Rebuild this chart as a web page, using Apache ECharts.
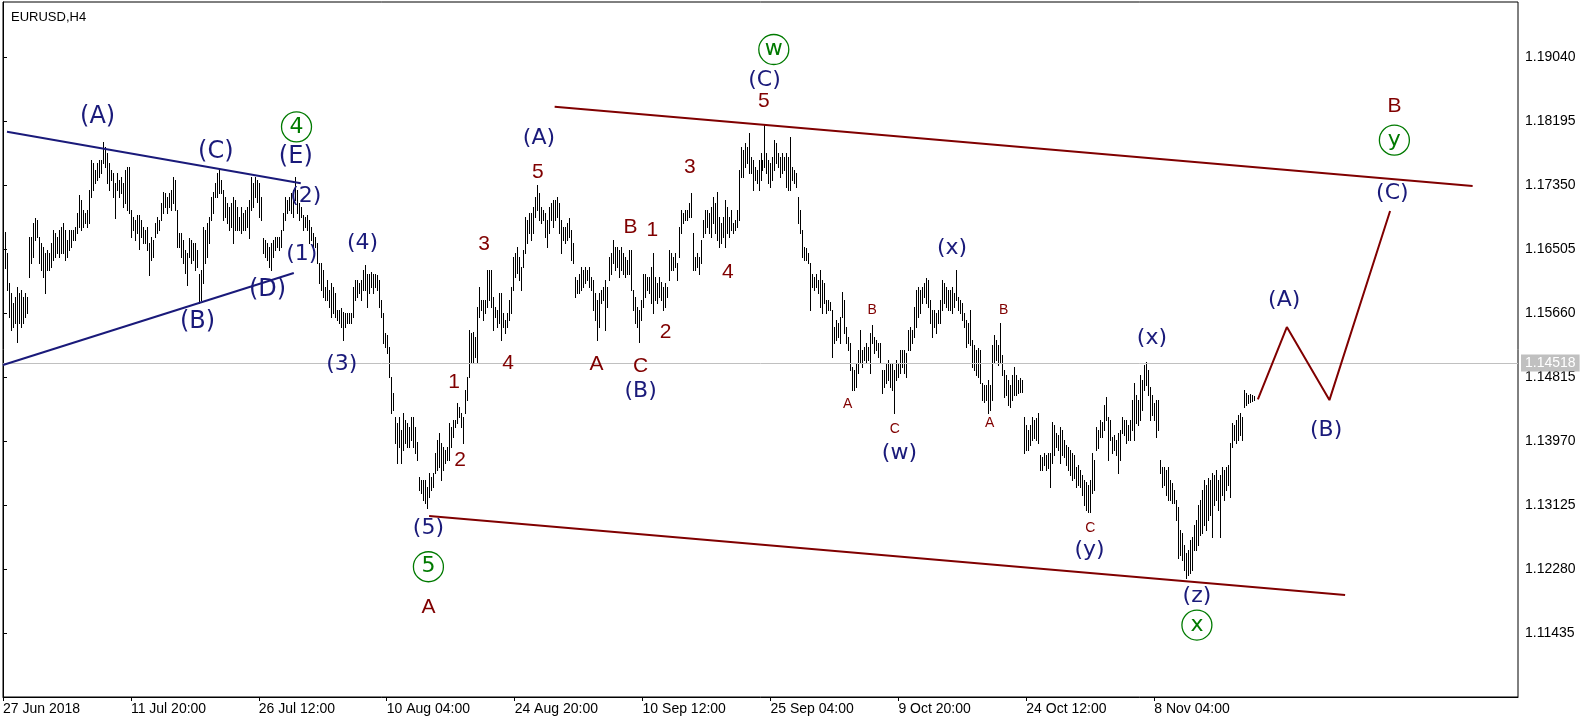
<!DOCTYPE html>
<html><head><meta charset="utf-8">
<script src="https://cdn.jsdelivr.net/npm/echarts@6/dist/echarts.min.js"></script>
<style>html,body{margin:0;padding:0;background:#fff}#c{width:1596px;height:723px}</style>
</head><body><div id="c"></div>
<script>
// ---------------- data ----------------
const symbolName = 'EURUSD,H4';
const tickLabels = ['27 Jun 2018','11 Jul 20:00','26 Jul 12:00','10 Aug 04:00','24 Aug 20:00','10 Sep 12:00','25 Sep 04:00','9 Oct 20:00','24 Oct 12:00','8 Nov 04:00'];
const barsPerLabel = 64;
const slotCount = 759;
const priceMin = 1.10590, priceMax = 1.19766, priceStep = 0.00845;
const lastPrice = 1.14518;

const highs = [
1.1662,1.1673,1.1645,1.1605,1.1592,1.1579,1.1587,1.1600,1.1592,1.1596,
1.1587,1.1592,1.1587,1.1666,1.1666,1.1685,1.1691,1.1689,1.1666,1.1658,
1.1653,1.1645,1.1649,1.1645,1.1658,1.1675,1.1671,1.1666,1.1675,1.1679,
1.1685,1.1675,1.1662,1.1675,1.1675,1.1675,1.1679,1.1698,1.1722,1.1715,
1.1702,1.1698,1.1702,1.1728,1.1768,1.1764,1.1755,1.1764,1.1768,1.1768,
1.1792,1.1785,1.1777,1.1764,1.1755,1.1751,1.1737,1.1751,1.1741,1.1745,
1.1737,1.1755,1.1759,1.1759,1.1702,1.1693,1.1689,1.1695,1.1695,1.1689,
1.1679,1.1675,1.1679,1.1658,1.1666,1.1662,1.1685,1.1693,1.1689,1.1711,
1.1726,1.1724,1.1719,1.1724,1.1728,1.1745,1.1741,1.1702,1.1671,1.1671,
1.1662,1.1649,1.1645,1.1665,1.1662,1.1658,1.1658,1.1649,1.1618,1.1623,
1.1679,1.1675,1.1685,1.1693,1.1719,1.1726,1.1737,1.1751,1.1755,1.1741,
1.1728,1.1719,1.1711,1.1706,1.1711,1.1719,1.1715,1.1706,1.1693,1.1706,
1.1698,1.1702,1.1706,1.1715,1.1745,1.1737,1.1745,1.1741,1.1737,1.1719,
1.1665,1.1662,1.1658,1.1653,1.1658,1.1662,1.1666,1.1666,1.1666,1.1675,
1.1698,1.1719,1.1715,1.1719,1.1724,1.1728,1.1745,1.1728,1.1711,1.1706,
1.1695,1.1693,1.1695,1.1689,1.1679,1.1671,1.1666,1.1658,1.1632,1.1632,
1.1623,1.1600,1.1609,1.1596,1.1605,1.1600,1.1592,1.1570,1.1570,1.1572,
1.1567,1.1566,1.1566,1.1566,1.1566,1.1600,1.1609,1.1609,1.1605,1.1609,
1.1623,1.1629,1.1618,1.1618,1.1620,1.1618,1.1618,1.1616,1.1609,1.1583,
1.1566,1.1539,1.1537,1.1521,1.1481,1.1460,1.1429,1.1421,1.1429,1.1411,
1.1434,1.1425,1.1421,1.1415,1.1429,1.1429,1.1415,1.1396,1.1349,1.1345,
1.1345,1.1345,1.1336,1.1355,1.1349,1.1355,1.1381,1.1398,1.1407,1.1394,
1.1389,1.1385,1.1389,1.1421,1.1415,1.1425,1.1425,1.1447,1.1442,1.1434,
1.1429,1.1464,1.1481,1.1543,1.1539,1.1541,1.1534,1.1574,1.1600,1.1583,
1.1583,1.1583,1.1623,1.1623,1.1623,1.1587,1.1574,1.1570,1.1592,1.1592,
1.1566,1.1557,1.1566,1.1583,1.1600,1.1640,1.1645,1.1653,1.1640,1.1627,
1.1649,1.1693,1.1689,1.1698,1.1698,1.1706,1.1719,1.1735,1.1724,1.1706,
1.1702,1.1698,1.1689,1.1706,1.1711,1.1715,1.1715,1.1719,1.1711,1.1689,
1.1679,1.1679,1.1685,1.1691,1.1675,1.1658,1.1613,1.1609,1.1618,1.1627,
1.1623,1.1627,1.1623,1.1627,1.1613,1.1609,1.1592,1.1583,1.1592,1.1596,
1.1600,1.1609,1.1600,1.1640,1.1645,1.1662,1.1653,1.1653,1.1649,1.1653,
1.1645,1.1640,1.1636,1.1649,1.1649,1.1596,1.1587,1.1574,1.1570,1.1583,
1.1618,1.1618,1.1613,1.1613,1.1627,1.1645,1.1613,1.1605,1.1613,1.1607,
1.1600,1.1605,1.1600,1.1649,1.1645,1.1640,1.1645,1.1632,1.1679,1.1702,
1.1698,1.1702,1.1702,1.1711,1.1724,1.1671,1.1640,1.1645,1.1640,1.1662,
1.1689,1.1702,1.1702,1.1698,1.1706,1.1719,1.1711,1.1726,1.1693,1.1685,
1.1693,1.1715,1.1706,1.1693,1.1702,1.1685,1.1689,1.1702,1.1755,1.1785,
1.1781,1.1790,1.1785,1.1803,1.1772,1.1768,1.1759,1.1755,1.1768,1.1777,
1.1768,1.1814,1.1777,1.1768,1.1764,1.1772,1.1794,1.1790,1.1777,1.1772,
1.1777,1.1772,1.1777,1.1772,1.1798,1.1759,1.1755,1.1751,1.1719,1.1702,
1.1675,1.1653,1.1652,1.1645,1.1632,1.1618,1.1613,1.1618,1.1609,1.1623,
1.1609,1.1605,1.1583,1.1583,1.1580,1.1570,1.1547,1.1557,1.1553,1.1561,
1.1594,1.1583,1.1547,1.1534,1.1526,1.1495,1.1491,1.1500,1.1517,1.1543,
1.1517,1.1521,1.1526,1.1521,1.1539,1.1550,1.1534,1.1530,1.1526,1.1526,
1.1491,1.1491,1.1500,1.1504,1.1500,1.1500,1.1491,1.1504,1.1500,1.1517,
1.1517,1.1517,1.1513,1.1543,1.1547,1.1543,1.1574,1.1596,1.1600,1.1596,
1.1600,1.1605,1.1612,1.1609,1.1583,1.1570,1.1570,1.1566,1.1570,1.1583,
1.1609,1.1605,1.1600,1.1596,1.1596,1.1600,1.1592,1.1623,1.1587,1.1583,
1.1579,1.1566,1.1557,1.1553,
1.1570,1.1530,1.1524,1.1517,1.1520,1.1517,1.1473,1.1471,1.1471,1.1477,
1.1471,1.1524,1.1537,1.1530,1.1524,1.1553,1.1510,1.1491,1.1484,1.1477,
1.1471,1.1484,1.1495,1.1484,1.1477,1.1480,1.1477,1.1429,1.1418,1.1411,
1.1418,1.1429,1.1425,1.1427,1.1434,1.1378,1.1376,1.1381,1.1378,1.1381,
1.1381,1.1422,1.1418,1.1407,1.1405,1.1415,1.1411,1.1398,1.1392,1.1389,
1.1385,1.1381,1.1378,1.1363,1.1365,1.1359,1.1352,1.1345,1.1343,1.1339,
1.1345,1.1381,1.1372,1.1415,1.1411,1.1425,1.1422,1.1444,1.1455,1.1429,
1.1425,1.1402,1.1405,1.1398,1.1407,1.1411,1.1429,1.1425,1.1425,1.1418,
1.1425,1.1451,1.1473,1.1458,1.1451,1.1484,1.1477,1.1497,1.1501,1.1491,
1.1468,1.1458,1.1447,1.1451,1.1451,1.1372,1.1363,1.1363,1.1359,1.1363,
1.1345,1.1341,1.1332,1.1319,1.1310,1.1279,1.1275,1.1260,1.1249,1.1253,
1.1266,1.1270,1.1286,1.1293,1.1312,1.1319,1.1332,1.1345,1.1339,1.1348,
1.1345,1.1355,1.1352,1.1359,1.1345,1.1352,1.1363,1.1359,1.1363,1.1365,
1.1394,1.1421,1.1418,1.1425,1.1431,1.1434,1.1429,1.1464,1.1460,1.1458,
1.1459,1.1458,1.1457
];

const lows = [
1.1629,1.1625,1.1596,1.1561,1.1543,1.1547,1.1553,1.1528,1.1553,1.1547,
1.1553,1.1561,1.1566,1.1613,1.1632,1.1640,1.1662,1.1666,1.1632,1.1623,
1.1613,1.1592,1.1623,1.1623,1.1627,1.1636,1.1640,1.1645,1.1640,1.1645,
1.1645,1.1636,1.1640,1.1649,1.1653,1.1662,1.1662,1.1671,1.1679,1.1675,
1.1679,1.1685,1.1679,1.1685,1.1719,1.1728,1.1737,1.1741,1.1745,1.1751,
1.1764,1.1759,1.1737,1.1728,1.1741,1.1719,1.1691,1.1728,1.1719,1.1724,
1.1706,1.1711,1.1702,1.1698,1.1666,1.1675,1.1662,1.1671,1.1651,1.1666,
1.1658,1.1658,1.1649,1.1616,1.1636,1.1640,1.1666,1.1671,1.1675,1.1689,
1.1698,1.1706,1.1698,1.1706,1.1702,1.1711,1.1702,1.1653,1.1653,1.1640,
1.1632,1.1619,1.1603,1.1640,1.1632,1.1636,1.1623,1.1627,1.1579,1.1583,
1.1605,1.1632,1.1640,1.1658,1.1689,1.1698,1.1719,1.1719,1.1724,1.1724,
1.1689,1.1693,1.1685,1.1675,1.1679,1.1658,1.1675,1.1675,1.1675,1.1671,
1.1675,1.1675,1.1679,1.1665,1.1702,1.1706,1.1719,1.1712,1.1693,1.1689,
1.1645,1.1640,1.1636,1.1627,1.1623,1.1640,1.1649,1.1653,1.1649,1.1653,
1.1675,1.1689,1.1698,1.1702,1.1698,1.1693,1.1715,1.1698,1.1689,1.1693,
1.1675,1.1679,1.1675,1.1658,1.1662,1.1649,1.1653,1.1632,1.1605,1.1596,
1.1587,1.1583,1.1583,1.1574,1.1561,1.1566,1.1561,1.1557,1.1553,1.1547,
1.1530,1.1547,1.1553,1.1553,1.1553,1.1561,1.1583,1.1587,1.1592,1.1583,
1.1596,1.1596,1.1574,1.1592,1.1600,1.1592,1.1600,1.1596,1.1574,1.1561,
1.1526,1.1521,1.1513,1.1481,1.1434,1.1438,1.1394,1.1368,1.1389,1.1368,
1.1385,1.1394,1.1389,1.1389,1.1398,1.1389,1.1381,1.1372,1.1332,1.1328,
1.1319,1.1315,1.1308,1.1323,1.1332,1.1336,1.1355,1.1359,1.1363,1.1345,
1.1359,1.1368,1.1372,1.1372,1.1389,1.1402,1.1415,1.1421,1.1429,1.1415,
1.1394,1.1434,1.1451,1.1481,1.1500,1.1500,1.1508,1.1500,1.1561,1.1570,
1.1557,1.1566,1.1574,1.1583,1.1574,1.1543,1.1561,1.1547,1.1553,1.1530,
1.1547,1.1539,1.1547,1.1557,1.1566,1.1596,1.1613,1.1619,1.1609,1.1596,
1.1627,1.1645,1.1658,1.1671,1.1662,1.1671,1.1693,1.1702,1.1689,1.1685,
1.1689,1.1666,1.1653,1.1671,1.1689,1.1679,1.1689,1.1693,1.1671,1.1645,
1.1662,1.1658,1.1662,1.1666,1.1636,1.1632,1.1587,1.1592,1.1592,1.1596,
1.1600,1.1605,1.1609,1.1600,1.1596,1.1570,1.1557,1.1530,1.1547,1.1579,
1.1583,1.1543,1.1574,1.1609,1.1618,1.1632,1.1623,1.1627,1.1613,1.1623,
1.1618,1.1613,1.1618,1.1618,1.1596,1.1570,1.1553,1.1547,1.1528,1.1557,
1.1574,1.1587,1.1596,1.1592,1.1579,1.1566,1.1583,1.1579,1.1587,1.1583,
1.1570,1.1574,1.1587,1.1609,1.1623,1.1623,1.1627,1.1609,1.1640,1.1671,
1.1685,1.1689,1.1689,1.1693,1.1693,1.1623,1.1623,1.1627,1.1618,1.1632,
1.1666,1.1671,1.1679,1.1671,1.1666,1.1685,1.1671,1.1662,1.1653,1.1658,
1.1666,1.1653,1.1671,1.1666,1.1675,1.1671,1.1675,1.1679,1.1689,1.1745,
1.1745,1.1759,1.1764,1.1751,1.1751,1.1728,1.1741,1.1737,1.1728,1.1741,
1.1755,1.1759,1.1751,1.1737,1.1732,1.1741,1.1755,1.1764,1.1759,1.1745,
1.1751,1.1755,1.1732,1.1728,1.1728,1.1741,1.1737,1.1732,1.1685,1.1671,
1.1640,1.1636,1.1636,1.1632,1.1570,1.1600,1.1596,1.1600,1.1592,1.1574,
1.1566,1.1579,1.1566,1.1570,1.1570,1.1508,1.1526,1.1530,1.1534,1.1526,
1.1561,1.1539,1.1526,1.1517,1.1491,1.1464,1.1464,1.1468,1.1487,1.1500,
1.1495,1.1504,1.1500,1.1504,1.1487,1.1526,1.1513,1.1517,1.1508,1.1500,
1.1460,1.1468,1.1473,1.1477,1.1468,1.1464,1.1434,1.1477,1.1481,1.1487,
1.1495,1.1487,1.1481,1.1517,1.1517,1.1526,1.1534,1.1547,1.1561,1.1566,
1.1579,1.1587,1.1579,1.1574,1.1553,1.1534,1.1547,1.1539,1.1553,1.1553,
1.1570,1.1579,1.1574,1.1570,1.1570,1.1566,1.1574,1.1583,1.1570,1.1566,
1.1557,1.1547,1.1521,1.1526,
1.1524,1.1495,1.1491,1.1484,1.1481,1.1473,1.1451,1.1448,1.1451,1.1434,
1.1438,1.1451,1.1500,1.1504,1.1497,1.1500,1.1484,1.1455,1.1458,1.1444,
1.1442,1.1451,1.1458,1.1458,1.1460,1.1462,1.1462,1.1381,1.1385,1.1385,
1.1392,1.1398,1.1401,1.1398,1.1394,1.1359,1.1359,1.1365,1.1359,1.1361,
1.1336,1.1368,1.1378,1.1389,1.1385,1.1368,1.1378,1.1376,1.1365,1.1359,
1.1352,1.1345,1.1348,1.1336,1.1339,1.1336,1.1326,1.1312,1.1306,1.1303,
1.1303,1.1328,1.1332,1.1385,1.1388,1.1402,1.1402,1.1411,1.1425,1.1372,
1.1398,1.1381,1.1385,1.1378,1.1355,1.1372,1.1407,1.1405,1.1394,1.1398,
1.1398,1.1411,1.1398,1.1421,1.1418,1.1425,1.1438,1.1464,1.1471,1.1458,
1.1425,1.1431,1.1425,1.1402,1.1411,1.1355,1.1336,1.1339,1.1326,1.1319,
1.1319,1.1315,1.1315,1.1293,1.1243,1.1246,1.1240,1.1227,1.1216,1.1220,
1.1223,1.1227,1.1253,1.1253,1.1260,1.1273,1.1275,1.1286,1.1279,1.1293,
1.1299,1.1270,1.1312,1.1319,1.1306,1.1270,1.1326,1.1319,1.1332,1.1339,
1.1323,1.1389,1.1398,1.1394,1.1398,1.1405,1.1398,1.1442,1.1444,1.1447,
1.1448,1.1450,1.1451
];

// trend lines: [bar index, price]
const triangleUpper = [[2, 1.18054], [149, 1.17372]];
const triangleLower = [[0, 1.14973], [145.5, 1.16188]];
const channelUpper  = [[276, 1.18384], [735.3, 1.17337]];
const channelLower  = [[213.2, 1.12980], [671.5, 1.11937]];
const projection    = [[627.85, 1.14518], [642.35, 1.15475], [663.65, 1.14510], [694, 1.17007]];

// wave labels: [bar index, price, text]
const navyLargeLabels = [
  [47.35, 1.1825, '(A)'], [106.5, 1.1779, '(C)'], [146.5, 1.1772, '(E)'],
  [132.35, 1.15962, '(D)'], [97.35, 1.15544, '(B)']
];
const navyLabels = [
  [151.5, 1.17203, '(2)'], [149.5, 1.16437, '(1)'], [179.85, 1.16578, '(4)'], [169.5, 1.14981, '(3)'],
  [212.85, 1.12824, '(5)'], [268.15, 1.17964, '(A)'], [319, 1.1462, '(B)'], [381, 1.18734, '(C)'],
  [448.5, 1.13814, '(w)'], [474.85, 1.16512, '(x)'], [574.85, 1.15324, '(x)'], [543.65, 1.1253, '(y)'],
  [597.35, 1.11914, '(z)'], [641, 1.1583, '(A)'], [662, 1.14114, '(B)'], [695.15, 1.17246, '(C)']
];
const maroonLabels = [
  [212.85, 1.11774, 'A'], [228.65, 1.13718, '2'], [225.65, 1.14752, '1'], [252.65, 1.14994, '4'],
  [240.65, 1.16569, '3'], [267.65, 1.17524, '5'], [297, 1.14985, 'A'], [319, 1.14959, 'C'],
  [331.5, 1.15404, '2'], [314, 1.16798, 'B'], [324.85, 1.16754, '1'], [343.65, 1.1759, '3'],
  [362.65, 1.16204, '4'], [380.65, 1.18457, '5'], [696.15, 1.18391, 'B']
];
const maroonSmallLabels = [
  [434.85, 1.15698, 'B'], [422.65, 1.14453, 'A'], [446.15, 1.14127, 'C'],
  [500.65, 1.15698, 'B'], [493.65, 1.14202, 'A'], [544, 1.12816, 'C']
];
const circledLabels = [
  [146.85, 1.18118, '4'], [212.85, 1.1231, '5'], [385.65, 1.19139, 'w'],
  [597.35, 1.1154, 'x'], [696.15, 1.17942, 'y']
];

// ---------------- chart ----------------
const NAVY = '#1a1a7a', MAROON = '#800000', GREEN = '#007a00';
const bars = highs.map((h, i) => [i, h, lows[i]]);
const cats = Array.from({length: slotCount}, (_, i) => String(i));
const showTick = (idx) => idx % barsPerLabel === 0 && idx / barsPerLabel < tickLabels.length;

function textSeries(list, color, size, family) {
  return {
    type: 'scatter', xAxisIndex: 1, symbolSize: 1, z: 10, silent: true,
    itemStyle: { color: 'rgba(0,0,0,0)', opacity: 1 },
    data: list.map(d => ({ value: [d[0], d[1]], name: d[2] })),
    label: { show: true, position: 'inside', formatter: p => p.name, color, opacity: 1,
      textBorderWidth: 0, fontSize: size, fontFamily: family }
  };
}
function lineSeries(data, color) {
  return { type: 'line', xAxisIndex: 1, data, showSymbol: false, symbol: 'none', z: 5, silent: true,
    lineStyle: { color, width: 2, opacity: 1 } };
}

const chart = echarts.init(document.getElementById('c'), null, { renderer: 'canvas' });
chart.setOption({
  animation: false,
  backgroundColor: '#ffffff',
  title: { text: symbolName, left: 6, top: 6,
    textStyle: { fontSize: 13, fontWeight: 'normal', color: '#000', fontFamily: 'Liberation Sans' } },
  grid: { left: 2, top: 2, right: 78, bottom: 26, show: true, borderColor: '#000', borderWidth: 1, backgroundColor: '#fff' },
  xAxis: [
    { type: 'category', data: cats, boundaryGap: false,
      axisLine: { show: true, lineStyle: { color: '#000' } },
      axisTick: { show: true, length: 4, interval: showTick, lineStyle: { color: '#000' } },
      axisLabel: { interval: showTick, align: 'left', margin: 5, color: '#000', fontSize: 14,
        fontFamily: 'Liberation Sans', formatter: (v, idx) => tickLabels[idx / barsPerLabel] || '' },
      splitLine: { show: false } },
    { type: 'value', min: 0, max: slotCount - 1, show: false }
  ],
  yAxis: {
    type: 'value', position: 'right', min: priceMin, max: priceMax, interval: priceStep, scale: true,
    axisLine: { show: true, lineStyle: { color: '#000' } },
    axisTick: { show: true, length: 4, lineStyle: { color: '#000' } },
    axisLabel: { margin: 7, color: '#000', fontSize: 14, fontFamily: 'Liberation Sans',
      showMinLabel: false, showMaxLabel: false, formatter: v => v.toFixed(5) },
    splitLine: { show: false }
  },
  series: [
    { type: 'line', xAxisIndex: 1, data: [], z: 1, silent: true,
      markLine: { silent: true, symbol: 'none', animation: false,
        lineStyle: { color: '#c0c0c0', width: 1, type: 'solid' },
        label: { show: true, position: 'end', distance: 3, formatter: () => lastPrice.toFixed(5),
          backgroundColor: '#c0c0c0', color: '#fff', fontSize: 14, fontFamily: 'Liberation Sans',
          padding: [2, 4, 1, 4] },
        data: [{ yAxis: lastPrice }] } },
    { type: 'custom', xAxisIndex: 0, z: 3, silent: true, data: bars,
      renderItem: (params, api) => {
        const top = api.coord([api.value(0), api.value(1)]);
        const bot = api.coord([api.value(0), api.value(2)]);
        const px = Math.round(top[0]) + 0.5;
        return { type: 'line', shape: { x1: px, y1: Math.round(top[1]), x2: px, y2: Math.round(bot[1]) + 1 },
          style: { stroke: '#000', lineWidth: 1, opacity: 1 } };
      } },
    lineSeries(triangleUpper, NAVY),
    lineSeries(triangleLower, NAVY),
    lineSeries(channelUpper, MAROON),
    lineSeries(channelLower, MAROON),
    lineSeries(projection, MAROON),
    textSeries(navyLargeLabels, NAVY, 24, 'DejaVu Sans'),
    textSeries(navyLabels, NAVY, 22, 'DejaVu Sans'),
    textSeries(maroonLabels, MAROON, 21, 'Liberation Sans'),
    textSeries(maroonSmallLabels, MAROON, 14, 'Liberation Sans'),
    { type: 'scatter', xAxisIndex: 1, symbol: 'circle', symbolSize: 30, z: 10, silent: true,
      itemStyle: { color: 'rgba(0,0,0,0)', borderColor: GREEN, borderWidth: 1.3, opacity: 1 },
      data: circledLabels.map(d => ({ value: [d[0], d[1]], name: d[2] })),
      label: { show: true, position: 'inside', formatter: p => p.name, color: GREEN, opacity: 1,
        textBorderWidth: 0, fontSize: 22, fontFamily: 'DejaVu Sans' } }
  ]
});
</script>
</body></html>
